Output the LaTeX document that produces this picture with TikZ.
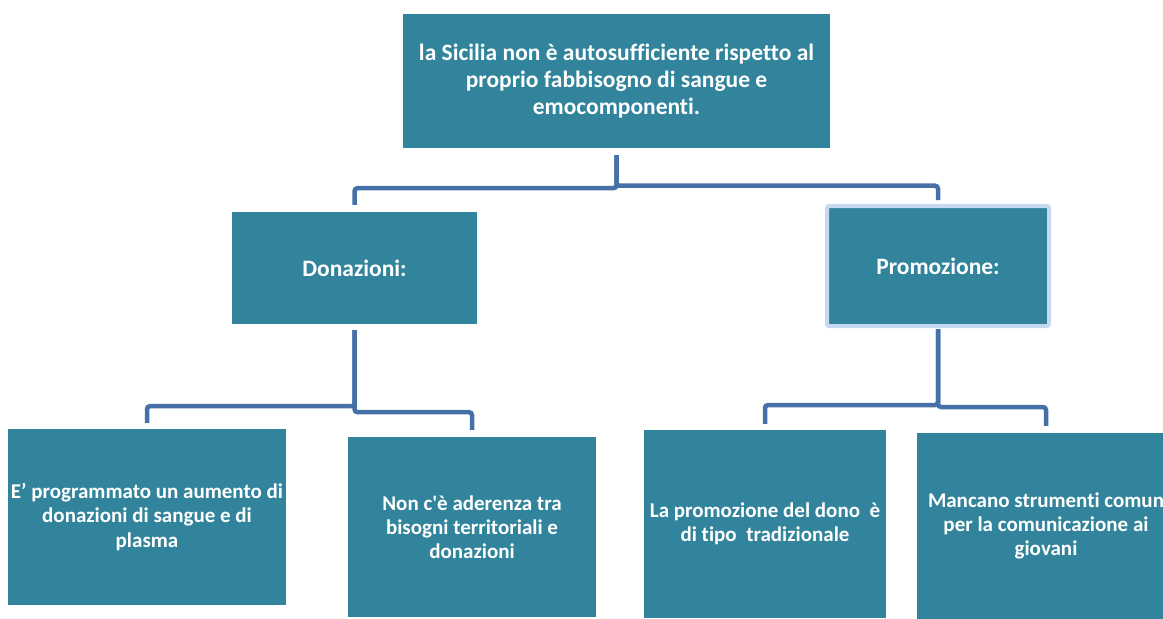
\documentclass[tikz,border=0pt]{standalone}
\usepackage{fontspec}
\setmainfont{Carlito}[Ligatures={TeXOff,NoCommon}]
\definecolor{boxteal}{RGB}{49,132,155}
\definecolor{linkblue}{RGB}{70,112,168}
\definecolor{rimblue}{RGB}{198,217,241}
\begin{document}
\begin{tikzpicture}[x=1pt,y=-1pt,
	box/.style={fill=boxteal,text=white,font=\bfseries\fontsize{21}{24.2}\selectfont,align=center,inner sep=0pt},
	head/.style={box,font=\bfseries\fontsize{23.5}{28}\selectfont},
	link/.style={draw=linkblue,line width=4.5pt,rounded corners=3pt}]
	\useasboundingbox (0,0) rectangle (1163,619);
	% boxes
	\node[box,minimum width=427,minimum height=134,font=\bfseries\fontsize{23.5}{27}\selectfont] (sicilia) at (616.5,81) {la Sicilia non è autosufficiente rispetto al\\proprio fabbisogno di sangue e\\emocomponenti.};
	\node[head,minimum width=245,minimum height=112] (donazioni) at (354.5,268) {Donazioni:};
	\node[head,draw=rimblue,line width=4pt,rounded corners=2pt,minimum width=222,minimum height=120] (promozione) at (938,266) {Promozione:};
	\node[box,minimum width=278,minimum height=176] (aumento) at (147,517) {E’ programmato un aumento di\\donazioni di sangue e di\\plasma};
	\node[box,minimum width=248,minimum height=180] (aderenza) at (472,527) {Non c'è aderenza tra\\bisogni territoriali e\\donazioni};
	\node[box,minimum width=242,minimum height=188] (tradizionale) at (765,524) {La promozione del dono\ \ è\\di tipo\ \ tradizionale};
	\node[box,minimum width=258,minimum height=186] (strumenti) at (1046,526) {Mancano strumenti comun\\per la comunicazione ai\\giovani};
	% connectors
	\draw[link,shorten <=7pt,shorten >=7pt] (sicilia.south) -- ++(0,40) -| (donazioni.north);
	\draw[link,shorten <=7pt,shorten >=4pt] (sicilia.south) -- ++(0,37.5) -| (promozione.north);
	\draw[link,shorten <=6pt,shorten >=6pt] (donazioni.south) -- ++(0,82) -| (aumento.north);
	\draw[link,shorten <=6pt,shorten >=7pt] (donazioni.south) -- ++(0,88) -| (aderenza.north);
	\draw[link,shorten <=1pt,shorten >=6pt] (promozione.south) -- ++(0,77) -| (tradizionale.north);
	\draw[link,shorten <=1pt,shorten >=7pt] (promozione.south) -- ++(0,79) -| (strumenti.north);
\end{tikzpicture}
\end{document}
